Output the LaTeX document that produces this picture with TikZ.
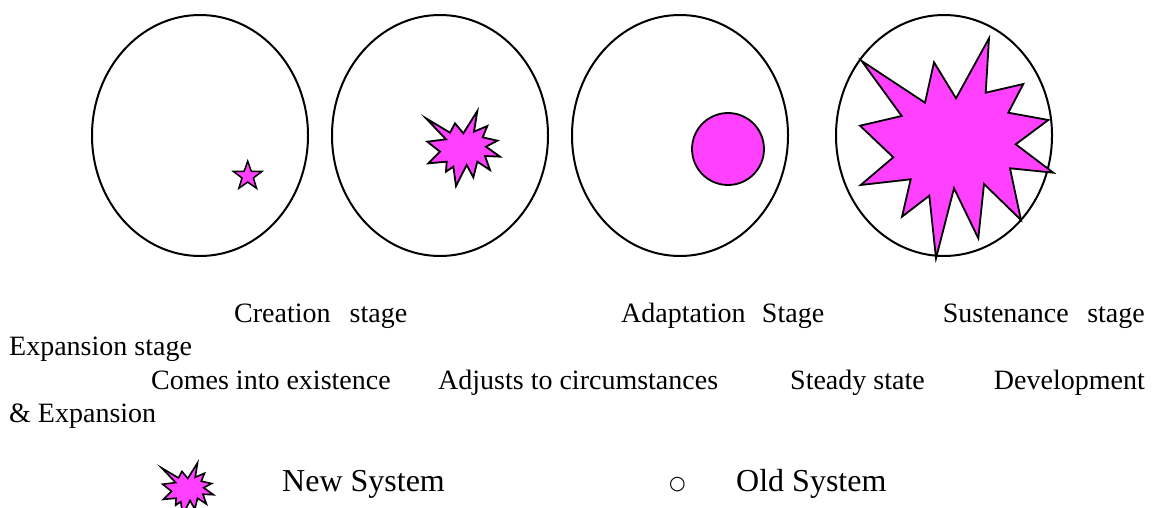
\documentclass[tikz,border=0pt]{standalone}
\usepackage{fontspec}
\setmainfont{Liberation Serif}
\newfontfamily\symfont{DejaVu Sans}
\definecolor{burst}{RGB}{255,64,255}
\newcommand\smallburst{(78,55) -- (150,98) -- (165,70) -- (190,100) -- (232,33) -- (222,95) -- (262,78) -- (248,112) -- (292,122) -- (258,140) -- (300,170) -- (255,168) -- (270,210) -- (232,185) -- (220,232) -- (200,195) -- (168,258) -- (160,200) -- (138,215) -- (140,185) -- (85,190) -- (120,155) -- (82,125) -- (138,118) -- cycle}
\begin{document}
\begin{tikzpicture}[x=1pt,y=-1pt,
  oldsys/.style={draw=black, line width=2pt},
  newsys/.style={draw=black, fill=burst, line width=1.8pt, line join=miter},
  lbl/.style={inner sep=0pt, anchor=base west, font=\fontsize{28}{33}\selectfont},
  lblr/.style={lbl, anchor=base east},
  leg/.style={inner sep=0pt, anchor=base west, font=\fontsize{32}{38}\selectfont}]
\useasboundingbox (0,0) rectangle (1153,508);
% old systems
\draw[oldsys] (200,135.5) ellipse [x radius=108, y radius=120.5];
\draw[oldsys] (440,135.5) ellipse [x radius=108, y radius=120.5];
\draw[oldsys] (680,135.5) ellipse [x radius=108, y radius=120.5];
\draw[oldsys] (944,135.5) ellipse [x radius=108, y radius=120.5];
% stage 1: star
\begin{scope}[shift={(247.7,176.1)}]
\draw[newsys, line width=1.5pt] (0,-15) -- (3.53,-4.85) -- (14.27,-4.64) -- (5.71,1.85) -- (8.82,12.14) -- (0,6) -- (-8.82,12.14) -- (-5.71,1.85) -- (-14.27,-4.64) -- (-3.53,-4.85) -- cycle;
\end{scope}
% stage 2: small burst
\begin{scope}[shift={(400,100)}, scale=1/3]
\draw[newsys] \smallburst;
\end{scope}
% stage 3: disc
\draw[newsys] (728,149) circle [radius=36];
% stage 4: big burst
\draw[newsys] (861.7,61) -- (925,102.7) -- (934,62.3) -- (956,98.3) -- (989,38.3) -- (985.7,92.7) -- (1023.3,84) -- (1008.3,112.7) -- (1048.3,120) -- (1015.7,144.3) -- (1053.3,172.7) -- (1010,168.3) -- (1021,220) -- (984,184) -- (978.3,238.3) -- (954,188.3) -- (936,258.3) -- (929.3,195.7) -- (902,216.7) -- (910.7,179.3) -- (860.7,185) -- (893.3,157.3) -- (860,125.7) -- (901.7,116) -- cycle;
% labels
\node[lbl] (creation) at (234,322) {\makebox[173pt][s]{Creation stage}};
\node[lbl] (adaptation) at (621,322) {\makebox[203pt][s]{Adaptation Stage}};
\node[lblr] (sustenance) at (1145,322) {\makebox[202pt][s]{Sustenance stage}};
\node[lbl] (expansion) at (9,355) {Expansion stage};
\node[lbl] (comes) at (151,389) {Comes into existence};
\node[lbl] (adjusts) at (438,389) {Adjusts to circumstances};
\node[lbl] (steady) at (790,389) {Steady state};
\node[lblr] (development) at (1145,389) {Development};
\node[lbl] (andexp) at (9,422) {\&~Expansion};
% legend
\begin{scope}[shift={(143.5,455.1)}, scale=0.233]
\draw[newsys, line width=1.6pt] \smallburst;
\end{scope}
\node[leg] (newsys) at (282,491) {New System};
\node[inner sep=0pt, font=\symfont\fontsize{19}{19}\selectfont] (oldsym) at (677.5,484.5) {○};
\node[leg] (oldsys) at (736,491) {Old System};
\end{tikzpicture}
\end{document}
